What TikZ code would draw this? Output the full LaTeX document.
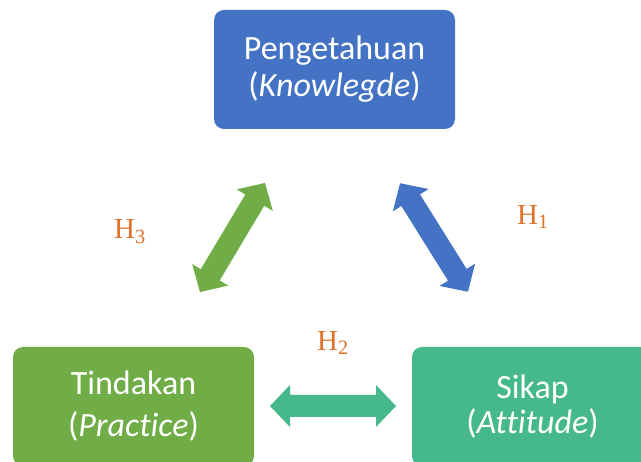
\documentclass[tikz,border=0pt]{standalone}
\usepackage{fontspec}
\setmainfont{Carlito}[Ligatures=CommonOff]
\newfontfamily\seriffont{Liberation Serif}
\definecolor{boxblue}{HTML}{4472C4}
\definecolor{boxgreen}{HTML}{70AD47}
\definecolor{boxteal}{HTML}{45B98C}
\definecolor{horange}{HTML}{E0702A}
\newcommand\dblarrowshape[5]{% x, y, angle, length, colour
  \begin{scope}[shift={(#1,#2)},rotate=#3]
    \fill[#5] (-#4/2,0) -- (-#4/2+20,21) -- (-#4/2+20,11) -- (#4/2-20,11) -- (#4/2-20,21)
      -- (#4/2,0) -- (#4/2-20,-21) -- (#4/2-20,-11) -- (-#4/2+20,-11) -- (-#4/2+20,-21) -- cycle;
  \end{scope}}
\begin{document}
\begin{tikzpicture}[x=1pt,y=-1pt,
  box/.style={rounded corners=10pt, minimum width=241pt, minimum height=119pt, inner sep=0pt,
    text=white, font=\fontsize{34}{37}\selectfont, align=center},
  hlabel/.style={text=horange, font=\seriffont\fontsize{29}{34}\selectfont, inner sep=0pt}]
\useasboundingbox (0,0) rectangle (641,462);
\clip (0,0) rectangle (641,462);
\node[box, fill=boxblue] (know) at (334.5,69.5) {Pengetahuan\\(\textit{Knowlegde})};
\node[box, fill=boxgreen, font=\fontsize{34}{42}\selectfont] (prac) at (133.5,406.5) {Tindakan\\(\textit{Practice})};
\node[box, fill=boxteal, font=\fontsize{34}{35}\selectfont] (att) at (532.5,406.5) {Sikap\\(\textit{Attitude})};
\dblarrowshape{232.5}{237.5}{59.2}{127}{boxgreen}
\dblarrowshape{434}{237.5}{-58}{128}{boxblue}
\dblarrowshape{333}{406}{0}{126}{boxteal}
\node[hlabel] (h1) at (533,217) {H\textsubscript{1}};
\node[hlabel] (h2) at (333,343) {H\textsubscript{2}};
\node[hlabel] (h3) at (130,232) {H\textsubscript{3}};
\end{tikzpicture}
\end{document}
